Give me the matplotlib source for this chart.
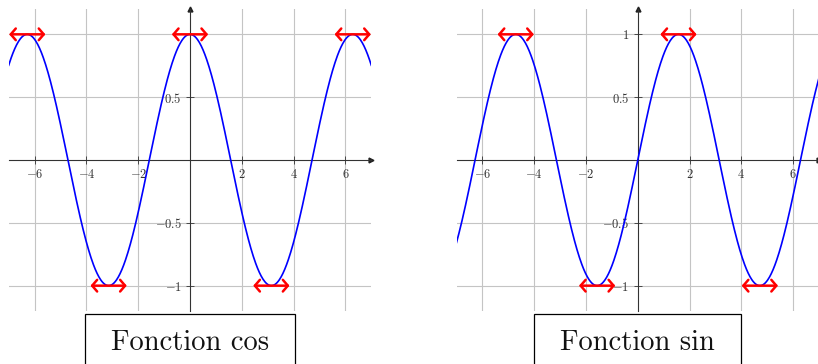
import numpy as np
import matplotlib.pyplot as plt
from matplotlib.patches import Rectangle
from matplotlib import transforms

plt.rcParams['mathtext.fontset'] = 'cm'

x_ticks = [-6, -4, -2, 2, 4, 6]
x_labels = [r'$-6$', r'$-4$', r'$-2$', r'$2$', r'$4$', r'$6$']
y_ticks = [-1, -0.5, 0.5, 1]
cos_ylabels = [r'$-1$', r'$-0.5$', r'$0.5$', '']
sin_ylabels = [r'$-1$', r'$-0.5$', r'$0.5$', r'$1$']

# extremums (x) : tangentes horizontales
cos_max = [-2 * np.pi, 0, 2 * np.pi]
cos_min = [-np.pi, np.pi]
sin_max = [-3 * np.pi / 2, np.pi / 2]
sin_min = [-np.pi / 2, 3 * np.pi / 2]
half = 0.7

W, H = 818, 364


def repere(ax, ylabels):
    ax.set_xlim(-7, 7)
    ax.set_ylim(-1.2, 1.2)
    for s in ['top', 'right']:
        ax.spines[s].set_visible(False)
    for s in ['left', 'bottom']:
        ax.spines[s].set_position('zero')
        ax.spines[s].set_color('#333333')
        ax.spines[s].set_linewidth(0.8)
    ax.set_xticks(x_ticks, x_labels)
    ax.set_yticks(y_ticks, ylabels)
    ax.grid(color='#c4c4c4', lw=0.8)
    ax.tick_params(direction='inout', length=6, width=0.6, colors='#333333',
                   labelsize=9, pad=3)
    ax.plot(1, 0, '>', color='#222222', ms=3.5,
            transform=ax.get_yaxis_transform(), clip_on=False)
    ax.plot(0, 1, '^', color='#222222', ms=3.5,
            transform=ax.get_xaxis_transform(), clip_on=False)


def tangentes(ax, xs, y):
    for x0 in xs:
        ax.annotate('', xy=(x0 + half, y), xytext=(x0 - half, y),
                    arrowprops=dict(arrowstyle='<->,head_length=0.3,head_width=0.35',
                                    color='red', lw=1.8, shrinkA=0, shrinkB=0,
                                    mutation_scale=12),
                    annotation_clip=False, zorder=5)


fig = plt.figure(figsize=(W / 100, H / 100), dpi=100)
ax1 = fig.add_axes([8.7 / W, 53.2 / H, 362.6 / W, 301.6 / H])
ax2 = fig.add_axes([456.5 / W, 53.2 / H, 362.6 / W, 301.6 / H])

x = np.linspace(-7, 7, 600)

repere(ax1, cos_ylabels)
ax1.plot(x, np.cos(x), color='blue', lw=1.2, zorder=3)
tangentes(ax1, cos_max, 1)
tangentes(ax1, cos_min, -1)

repere(ax2, sin_ylabels)
ax2.plot(x, np.sin(x), color='blue', lw=1.2, zorder=3)
tangentes(ax2, sin_max, 1)
tangentes(ax2, sin_min, -1)

# légendes encadrées sous chaque repère
textes = []
for ax, nom in [(ax1, 'Fonction cos'), (ax2, 'Fonction sin')]:
    tr = transforms.blended_transform_factory(ax.transData, fig.transFigure)
    t = fig.text(0, 14 / H, nom, transform=tr, ha='center', va='baseline',
                 fontfamily='cmr10', fontsize=20.5, color='#111111')
    textes.append(t)

fig.canvas.draw()
for t in textes:
    bb = t.get_window_extent()
    x0 = bb.x0 - 26
    w = bb.width + 52
    fig.add_artist(Rectangle((x0 / W, -0.1), w / W, 50 / H + 0.1,
                             transform=fig.transFigure, fill=False,
                             edgecolor='black', lw=0.9))

fig.savefig('out.png', dpi=100)
